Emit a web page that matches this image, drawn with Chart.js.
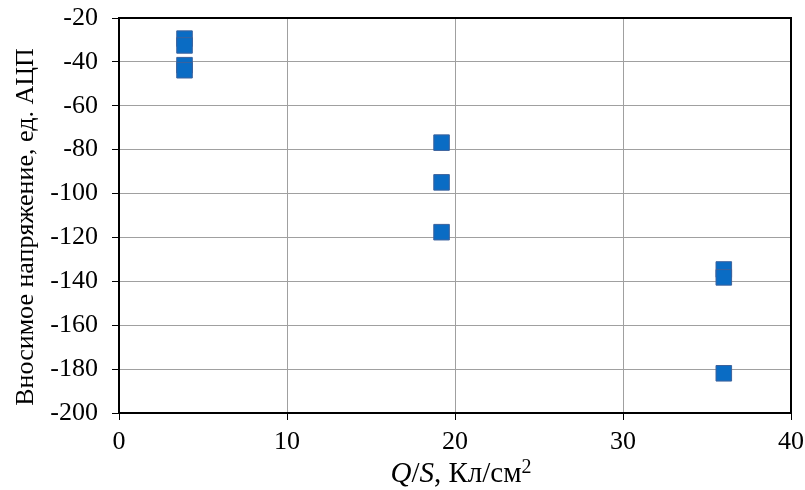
<!DOCTYPE html>
<html>
<head>
<meta charset="utf-8">
<script src="https://cdn.jsdelivr.net/npm/chart.js@4/dist/chart.umd.min.js"></script>
<style>
  html, body { margin: 0; padding: 0; background: #ffffff; }
  #wrap { width: 805px; height: 490px; position: relative; }
</style>
</head>
<body>
<div id="wrap"><canvas id="c" width="805" height="490"></canvas></div>
<script>
// Data
const xValues = [3.9, 3.9, 3.9, 3.9, 19.2, 19.2, 19.2, 36.0, 36.0, 36.0];
const yValues = [-29.4, -32.5, -41.5, -43.8, -76.8, -94.9, -117.6, -134.6, -138.2, -181.9];
const xTicks = [0, 10, 20, 30, 40];
const yTicks = [-200, -180, -160, -140, -120, -100, -80, -60, -40, -20];
const yTitle = 'Вносимое напряжение, ед. АЦП';
const xTitleParts = [
  { text: 'Q', italic: true },
  { text: '/', italic: false },
  { text: 'S', italic: true },
  { text: ', Кл/см', italic: false },
  { text: '2', italic: false, sup: true }
];

const points = xValues.map((x, i) => ({ x: x, y: yValues[i] }));
const FONT = '"Liberation Serif", "Times New Roman", serif';

const frameAndTitles = {
  id: 'frameAndTitles',
  afterDraw(chart) {
    const ctx = chart.ctx;
    const a = chart.chartArea;
    ctx.save();
    // top and right frame
    ctx.strokeStyle = '#000000';
    ctx.lineWidth = 2;
    ctx.beginPath();
    ctx.moveTo(a.left, a.top);
    ctx.lineTo(a.right, a.top);
    ctx.lineTo(a.right, a.bottom);
    ctx.stroke();

    ctx.fillStyle = '#000000';
    // y title (rotated)
    ctx.save();
    ctx.font = '26px ' + FONT;
    ctx.textAlign = 'center';
    ctx.textBaseline = 'alphabetic';
    ctx.translate(33, 227);
    ctx.rotate(-Math.PI / 2);
    ctx.fillText(yTitle, 0, 0);
    ctx.restore();

    // x title with mixed styles
    const size = 29;
    const supSize = 20;
    const fontFor = p => (p.italic ? 'italic ' : '') + (p.sup ? supSize : size) + 'px ' + FONT;
    let total = 0;
    xTitleParts.forEach(p => { ctx.font = fontFor(p); total += ctx.measureText(p.text).width; });
    let x = 461 - total / 2;
    const baseY = 482;
    ctx.textBaseline = 'alphabetic';
    ctx.textAlign = 'left';
    xTitleParts.forEach(p => {
      ctx.font = fontFor(p);
      ctx.fillText(p.text, x, p.sup ? baseY - 9 : baseY);
      x += ctx.measureText(p.text).width;
    });
    ctx.restore();
  }
};

new Chart(document.getElementById('c'), {
  type: 'scatter',
  data: {
    datasets: [{
      data: points,
      pointStyle: 'rect',
      pointRadius: 11,
      pointHoverRadius: 11,
      backgroundColor: '#0a6cc4',
      borderColor: '#3d629c',
      borderWidth: 1
    }]
  },
  options: {
    responsive: false,
    animation: false,
    events: [],
    layout: { padding: { left: 0, top: 18, right: 14, bottom: 0 } },
    plugins: { legend: { display: false }, tooltip: { enabled: false } },
    scales: {
      x: {
        type: 'linear',
        min: 0, max: 40,
        afterBuildTicks: s => { s.ticks = xTicks.map(v => ({ value: v })); },
        afterFit: s => { s.height = 77; s.paddingLeft = 0; s.paddingRight = 0; },
        grid: { color: '#a0a0a0', lineWidth: 1, tickColor: '#000000', tickLength: 7, drawTicks: true },
        border: { color: '#000000', width: 2 },
        ticks: { color: '#000000', font: { family: FONT, size: 26 }, padding: 7, maxRotation: 0 },
        title: { display: false }
      },
      y: {
        type: 'linear',
        min: -200, max: -20,
        afterBuildTicks: s => { s.ticks = yTicks.map(v => ({ value: v })); },
        afterFit: s => { s.width = 119; s.paddingTop = 0; s.paddingBottom = 0; },
        grid: { color: '#a0a0a0', lineWidth: 1, tickColor: '#000000', tickLength: 7, drawTicks: true },
        border: { color: '#000000', width: 2 },
        ticks: { color: '#000000', font: { family: FONT, size: 26 }, padding: 14 },
        title: { display: false }
      }
    }
  },
  plugins: [frameAndTitles]
});
</script>
</body>
</html>
